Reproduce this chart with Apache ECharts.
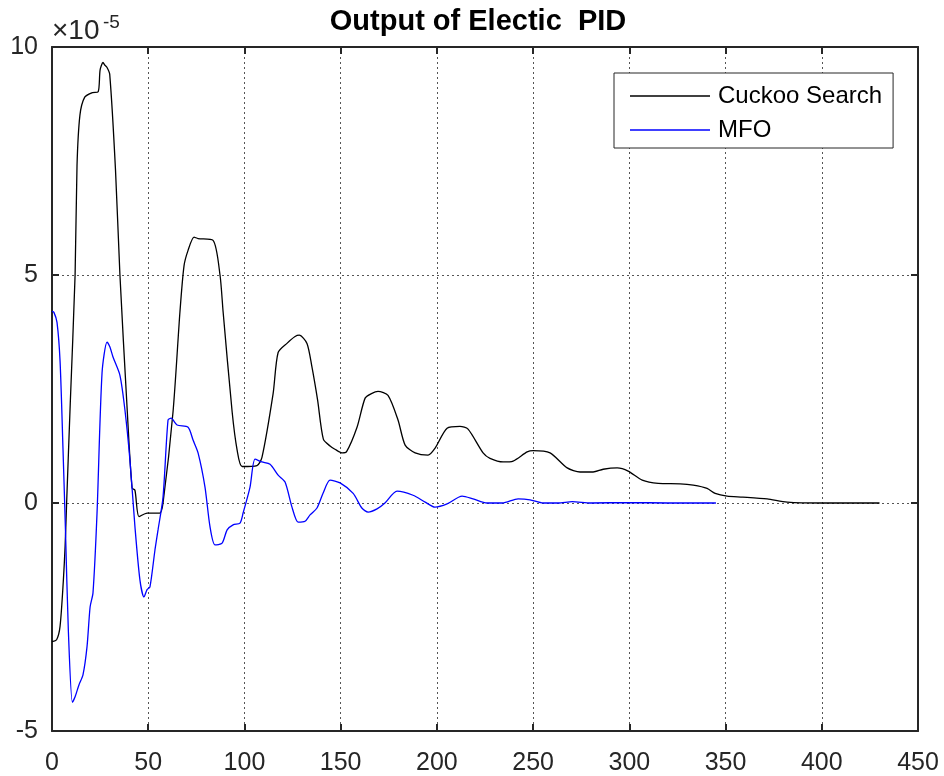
<!DOCTYPE html>
<html>
<head>
<meta charset="utf-8">
<script src="https://cdn.jsdelivr.net/npm/echarts@6/dist/echarts.min.js"></script>
<style>html,body{margin:0;padding:0;background:#fff}#c{width:944px;height:776px}</style>
</head>
<body>
<div id="c"></div>
<script>
const xTicks = [0, 50, 100, 150, 200, 250, 300, 350, 400, 450];
const yTicks = [-5, 0, 5, 10];

const csX = [0,2.4,4.2,5.9,6.8,7.6,9.5,12,13,14.5,17,21,24,25,26.5,27.5,28.6,30,33,35.3,39,41.6,43.1,45.2,49.4,56,57.7,62.9,66.5,68.6,70.7,73.8,75.9,83.7,87.3,88.9,93.6,96.2,98.8,106.5,109.1,114.9,117.5,122.1,126.3,128.5,132.5,135,138,141,144.5,147,150.7,153,158.5,162.7,166,169.4,174.6,179.8,183.5,188.7,195.4,199,205.3,212,216.2,224,227.6,234.4,239.6,246.9,250,258.8,267.7,274.4,281.2,286.4,293.7,299.4,306.7,315,326.4,333.2,340.4,344.6,350.8,359,371.6,382,400,430];
const csY = [-3.04,-3.0,-2.7,-1.7,-0.96,0,2.2,5.0,7.4,8.5,8.9,9.0,9.02,9.5,9.66,9.6,9.55,9.4,7.3,5.0,2.1,0.33,0.28,-0.3,-0.22,-0.22,0,2.0,4.2,5.2,5.54,5.83,5.8,5.76,5.0,4.2,2.0,1.16,0.8,0.82,1.0,2.4,3.3,3.5,3.65,3.68,3.5,3.0,2.26,1.4,1.25,1.18,1.1,1.12,1.66,2.3,2.4,2.45,2.36,1.82,1.27,1.1,1.05,1.2,1.64,1.68,1.62,1.1,0.98,0.9,0.92,1.12,1.15,1.1,0.77,0.68,0.68,0.74,0.77,0.7,0.5,0.43,0.42,0.39,0.32,0.21,0.15,0.13,0.09,0.02,0.0,0.0];

const mfoX = [0,1,2.6,4.2,5.7,7,8.5,10.6,12,14,16.1,18.2,19.8,21.3,23.4,26,28.6,30.1,31.7,35.3,37.9,40.5,43.1,45.7,47.8,49.4,50.9,53.5,55.1,57.7,60.3,61.9,65,70.7,73.3,75.9,79.5,82.1,84.7,88.4,91,94.1,97.7,99.3,102.9,105.5,109.1,113.3,117.5,121.1,124.7,127.9,131.5,134.1,137.7,140.9,144.5,149.7,156.5,161,164.3,168.9,173,179.3,187.6,193.9,199,205.3,213.1,218.8,226.1,234,242.2,248.4,255.2,263,270.3,280,300,320,345];
const mfoY = [4.2,4.18,3.96,3.1,1.2,-0.6,-2.8,-4.37,-4.25,-3.99,-3.77,-3.15,-2.28,-1.97,-0.22,2.85,3.53,3.42,3.2,2.8,2.04,0.94,-0.52,-1.69,-2.06,-1.9,-1.84,-1.03,-0.59,0.13,1.82,1.86,1.71,1.66,1.38,1.1,0.35,-0.52,-0.92,-0.88,-0.59,-0.48,-0.44,-0.22,0.35,0.96,0.9,0.85,0.61,0.46,-0.09,-0.42,-0.4,-0.26,-0.11,0.22,0.5,0.44,0.21,-0.11,-0.2,-0.13,0,0.26,0.17,0.02,-0.09,-0.02,0.15,0.09,0,0,0.09,0.07,0,0,0.03,0,0.01,0,0];

const pairs = (xs, ys) => xs.map((x, i) => [x, ys[i]]);
const FONT = '"Liberation Sans", Arial, sans-serif';
const AX = '#262626';
const GRID = '#555';

const chart = echarts.init(document.getElementById('c'), null, {renderer: 'canvas'});
const axisCommon = {
  axisLine: {show: true, onZero: false, lineStyle: {color: AX, width: 2}},
  axisTick: {show: true, inside: true, length: 7, lineStyle: {color: AX, width: 2}},
};
chart.setOption({
  animation: false,
  backgroundColor: '#fff',
  grid: {left: 52, right: 26, top: 47, bottom: 44, containLabel: false},
  xAxis: [
    Object.assign({type: 'value', min: xTicks[0], max: xTicks[xTicks.length-1], interval: 50,
      axisLabel: {color: AX, fontSize: 25, fontFamily: FONT, margin: 20},
      splitLine: {show: true, lineStyle: {color: GRID, type: [2, 3], width: 1}}}, axisCommon),
    Object.assign({type: 'value', position: 'top', min: 0, max: 450, interval: 50,
      axisLabel: {show: false}, splitLine: {show: false}}, axisCommon)
  ],
  yAxis: [
    Object.assign({type: 'value', min: yTicks[0], max: yTicks[yTicks.length-1], interval: 5,
      axisLabel: {color: AX, fontSize: 25, fontFamily: FONT, margin: 14},
      splitLine: {show: true, lineStyle: {color: GRID, type: [2, 3], width: 1}}}, axisCommon),
    Object.assign({type: 'value', position: 'right', min: -5, max: 10, interval: 5,
      axisLabel: {show: false}, splitLine: {show: false}}, axisCommon)
  ],
  legend: {
    left: 614, top: 73, orient: 'vertical',
    backgroundColor: '#fff', borderColor: AX, borderWidth: 1,
    padding: [11, 11, 6, 16], itemGap: 10, itemWidth: 80, itemHeight: 1.3,
    icon: 'rect',
    textStyle: {fontSize: 24, fontFamily: FONT, color: '#000', lineHeight: 24, padding: [0, 0, 0, 3]},
    data: ['Cuckoo Search', 'MFO']
  },
  series: [
    {name: 'Cuckoo Search', type: 'line', data: pairs(csX, csY), symbol: 'none', smooth: 0.25,
      lineStyle: {color: '#000', width: 1.3}, itemStyle: {color: '#000'}},
    {name: 'MFO', type: 'line', data: pairs(mfoX, mfoY), symbol: 'none', smooth: 0.25,
      lineStyle: {color: '#0000ff', width: 1.3}, itemStyle: {color: '#0000ff'}}
  ],
  graphic: [
    {type: 'text', x: 478, y: 7, style: {text: 'Output of Electic  PID', font: 'bold 29px ' + FONT, fill: '#000', align: 'center', verticalAlign: 'top'}},
    {type: 'text', x: 52, y: 17, style: {text: '×10', font: '28px ' + FONT, fill: AX, verticalAlign: 'top'}},
    {type: 'text', x: 103, y: 13, style: {text: '-5', font: '19px ' + FONT, fill: AX, verticalAlign: 'top'}}
  ]
});
</script>
</body>
</html>
